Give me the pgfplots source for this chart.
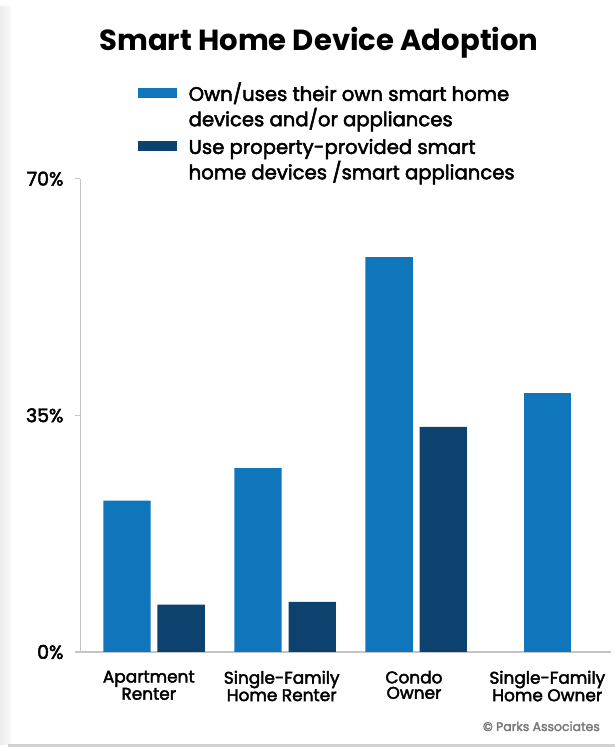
\documentclass[border=0pt]{standalone}
\usepackage{fontspec}
\setmainfont{Poppins}
\newfontfamily\medfont{Poppins}[FakeBold=2.5]
\usepackage{pgfplots}
\pgfplotsset{compat=1.18}
\definecolor{cOwn}{HTML}{1076BC}
\definecolor{cProp}{HTML}{0D426E}
\definecolor{axgray}{HTML}{C4C4C4}
\definecolor{cpgray}{HTML}{7A7A7A}
\begin{document}
\begin{tikzpicture}[x=1bp,y=1bp]
\path[use as bounding box] (0,0) rectangle (615,747);
\fill[white] (0,0) rectangle (615,747);
\shade[left color=gray!14, right color=gray!4] (0,2) rectangle (11,740);
\fill[gray!35] (8,0.5) rectangle (615,3);
\fill[white] (11,3) rectangle (615,740);
\begin{axis}[
  scale only axis, width=530.8bp, height=473.3bp,
  anchor=south west, at={(80.2bp,95bp)},
  xmin=-0.563, xmax=3.486, ymin=0, ymax=70,
  axis lines=left,
  axis line style={-, draw=axgray, line width=1.2bp},
  tick align=outside, major tick length=5.6bp,
  ytick={0,35,70}, yticklabels={0\%,35\%,70\%},
  ytick style={draw=axgray, line width=1.2bp},
  yticklabel style={font=\medfont\fontsize{19}{22}\selectfont, anchor=east, inner sep=0pt, xshift=-11bp},
  xtick={-0.04,0.974,1.983,3},
  xticklabels={Apartment\\Renter, Single-Family\\Home Renter, Condo\\Owner, Single-Family\\Home Owner},
  xtick style={draw=none},
  xticklabel style={font=\medfont\fontsize{17}{15.5}\selectfont, anchor=north, inner sep=0pt, align=center, yshift=-13bp},
  title={Smart Home Device Adoption},
  title style={font=\fontsize{29.2}{32}\selectfont\bfseries, at={(axis description cs:0.4499,1.2582)}, anchor=base, inner sep=0pt, yshift=0pt},
  legend style={at={(axis description cs:0.1089,1.2081)}, anchor=north west, draw=none, fill=none, inner sep=0pt, row sep=31.5bp, column sep=0pt, cells={anchor=base west, inner sep=0pt}, font=\medfont\fontsize{19.7}{23}\selectfont},
  myleg/.style={legend image code/.code={\fill[##1] (0bp,2.6bp) rectangle (38.5bp,12.6bp); \path (48.5bp,0bp);}},
]
\addplot[ybar, bar width=47.3bp, bar shift=-27.1bp, fill=cOwn, draw=none, myleg] coordinates {(0,22.4) (1,27.2) (2,58.4)};
\addplot[ybar, bar width=47.3bp, bar shift=27.1bp, fill=cProp, draw=none, myleg] coordinates {(0,7.0) (1,7.4) (2,33.3)};
\addplot[ybar, bar width=47.3bp, bar shift=0bp, fill=cOwn, draw=none, forget plot] coordinates {(3,38.3)};
\legend{{\begin{tabular}[t]{@{}l@{}}Own/uses their own smart home\\devices and/or appliances\end{tabular}},
        {\begin{tabular}[t]{@{}l@{}}Use property-provided smart\\home devices /smart appliances\end{tabular}}}
\end{axis}
\node[anchor=base east, inner sep=0pt, text=cpgray, font=\medfont\fontsize{12.5}{15}\selectfont] at (600,16) {© Parks Associates};
\end{tikzpicture}
\end{document}
